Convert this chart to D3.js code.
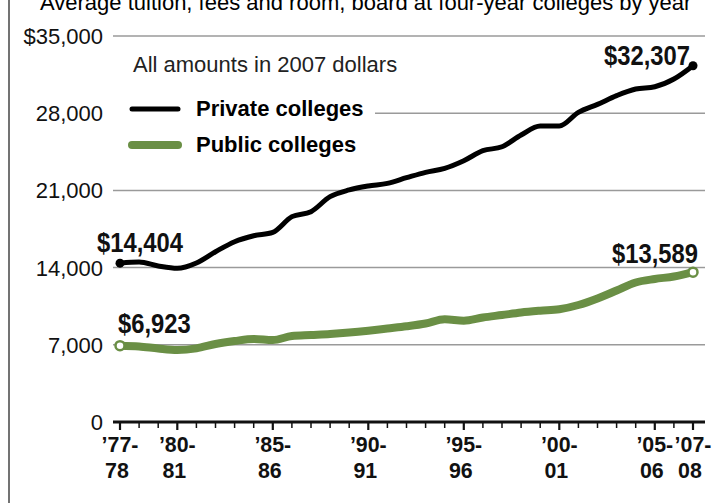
<!DOCTYPE html>
<html lang="en">
<head>
    <meta charset="UTF-8">
    <title>College costs</title>
    <script src="https://d3js.org/d3.v7.min.js"></script>
    <style>
        body {
            margin: 0;
            background-color: white;
        }
        svg {
            display: block;
            font-family: "Liberation Sans", Arial, sans-serif;
        }
    </style>
</head>
<body>
    <svg id="chart" width="715" height="503"></svg>

    <script>
        // Academic years, by starting year ('77-78 ... '07-08)
        const years = d3.range(1977, 2008);

        // Average charges, 2007 dollars
        const privateValues = [
            14404, 14500, 14150, 13940, 14420, 15440, 16350, 16890, 17200, 18620,
            19070, 20430, 21040, 21400, 21640, 22150, 22640, 23000, 23690, 24600,
            24960, 26020, 26840, 26840, 28080, 28800, 29590, 30190, 30400, 31100,
            32307
        ];
        const publicValues = [
            6923, 6850, 6660, 6530, 6680, 7070, 7340, 7530, 7430, 7800,
            7890, 7980, 8110, 8280, 8480, 8680, 8930, 9310, 9185, 9475,
            9700, 9930, 10090, 10220, 10610, 11200, 11920, 12650, 12970, 13190,
            13589
        ];

        const yTicks = [0, 7000, 14000, 21000, 28000, 35000];
        const labelYears = [1977, 1980, 1985, 1990, 1995, 2000, 2005, 2007];
        const labelTop = ["\u201977-", "\u201980-", "\u201985-", "\u201990-", "\u201995-", "\u201900-", "\u201905-", "\u201907-"];
        const labelBottom = ["78", "81", "86", "91", "96", "01", "06", "08"];

        const green = "#6a8f45";

        const svg = d3.select("#chart");

        const x = d3.scaleLinear().domain([1977, 2007]).range([120, 693]);
        const y = d3.scaleLinear().domain([0, 35000]).range([422, 36]);

        // bold text squeezed horizontally (no condensed face installed)
        function narrow(parent, px, py, str, size, sx, anchor) {
            const g = parent.append("g")
                .attr("transform", `translate(${px},${py}) scale(${sx},1)`);
            g.append("text")
                .attr("text-anchor", anchor)
                .style("font-size", size + "px")
                .style("font-weight", "bold")
                .attr("fill", "#111")
                .text(str);
            return g;
        }

        // left border
        svg.append("line")
            .attr("x1", 9).attr("x2", 9)
            .attr("y1", 0).attr("y2", 503)
            .attr("stroke", "#444")
            .attr("stroke-width", 1.5);

        // cut-off heading and source line
        svg.append("text")
            .attr("x", 40).attr("y", 10)
            .style("font-size", "22px")
            .text("Average tuition, fees and room, board at four-year colleges by year");
        svg.append("text")
            .attr("x", 17).attr("y", 518)
            .style("font-size", "18px")
            .text("Source: The College Board");

        // gridlines
        svg.append("g")
            .selectAll("line")
            .data(yTicks.filter(d => d > 0))
            .join("line")
            .attr("x1", 113).attr("x2", 705)
            .attr("y1", d => y(d)).attr("y2", d => y(d))
            .attr("stroke", "#9a9a9a")
            .attr("stroke-width", 1.5);

        // y labels
        svg.append("g")
            .selectAll("text")
            .data(yTicks)
            .join("text")
            .attr("x", 103)
            .attr("y", d => y(d))
            .attr("dy", "0.36em")
            .attr("text-anchor", "end")
            .style("font-size", "22px")
            .attr("fill", "#111")
            .text(d => d === 35000 ? "$35,000" : d3.format(",")(d));

        // x axis
        svg.append("line")
            .attr("x1", 113).attr("x2", 705)
            .attr("y1", y(0)).attr("y2", y(0))
            .attr("stroke", "#111")
            .attr("stroke-width", 3);

        svg.append("g")
            .selectAll("line")
            .data(years)
            .join("line")
            .attr("x1", d => x(d)).attr("x2", d => x(d))
            .attr("y1", y(0))
            .attr("y2", d => y(0) + (labelYears.includes(d) ? 8 : 6))
            .attr("stroke", "#111")
            .attr("stroke-width", d => labelYears.includes(d) ? 2.2 : 1.5);

        const xl = svg.append("g");
        labelYears.forEach((d, i) => {
            narrow(xl, x(d), 452, labelTop[i], 23, 0.93, "middle");
            narrow(xl, x(d) - 3, 478, labelBottom[i], 23, 0.93, "middle");
        });

        // legend (white block hides gridline under it)
        svg.append("rect")
            .attr("x", 112).attr("y", 96)
            .attr("width", 263).attr("height", 62)
            .attr("fill", "white");
        svg.append("text")
            .attr("x", 133).attr("y", 72)
            .style("font-size", "22px")
            .attr("fill", "#222")
            .text("All amounts in 2007 dollars");
        svg.append("line")
            .attr("x1", 132).attr("x2", 178)
            .attr("y1", 109).attr("y2", 109)
            .attr("stroke", "#000").attr("stroke-width", 5)
            .attr("stroke-linecap", "round");
        svg.append("text")
            .attr("x", 196).attr("y", 116)
            .style("font-size", "22px").style("font-weight", "bold")
            .text("Private colleges");
        svg.append("line")
            .attr("x1", 132).attr("x2", 178)
            .attr("y1", 145).attr("y2", 145)
            .attr("stroke", green).attr("stroke-width", 8)
            .attr("stroke-linecap", "round");
        svg.append("text")
            .attr("x", 196).attr("y", 152)
            .style("font-size", "22px").style("font-weight", "bold")
            .text("Public colleges");

        // white knockout behind the public end label
        const last = years.length - 1;
        svg.append("rect")
            .attr("x", x(years[last]) - 83).attr("y", y(publicValues[last]) - 30)
            .attr("width", 100).attr("height", 24)
            .attr("fill", "white");

        // lines
        const line = d3.line()
            .x((d, i) => x(years[i]))
            .y(d => y(d))
            .curve(d3.curveMonotoneX);

        svg.append("path")
            .datum(publicValues)
            .attr("d", line)
            .attr("fill", "none")
            .attr("stroke", green)
            .attr("stroke-width", 8)
            .attr("stroke-linejoin", "round");

        svg.append("path")
            .datum(privateValues)
            .attr("d", line)
            .attr("fill", "none")
            .attr("stroke", "#000")
            .attr("stroke-width", 5)
            .attr("stroke-linejoin", "round");

        // end points
        [0, last].forEach(i => {
            svg.append("circle")
                .attr("cx", x(years[i])).attr("cy", y(privateValues[i]))
                .attr("r", 4.5).attr("fill", "#000");
            svg.append("circle")
                .attr("cx", x(years[i])).attr("cy", y(publicValues[i]))
                .attr("r", 4.5).attr("fill", "white")
                .attr("stroke", green).attr("stroke-width", 2.5);
        });

        // value labels
        const fmt = d => "$" + d3.format(",")(d);
        narrow(svg, x(years[0]) - 23, y(privateValues[0]) - 11, fmt(privateValues[0]), 28, 0.85, "start");
        narrow(svg, x(years[0]) - 2, y(publicValues[0]) - 13, fmt(publicValues[0]), 28, 0.85, "start");
        narrow(svg, x(years[last]) - 3, y(privateValues[last]) - 1, fmt(privateValues[last]), 28, 0.85, "end");
        narrow(svg, x(years[last]) + 5, y(publicValues[last]) - 9, fmt(publicValues[last]), 28, 0.85, "end");
    </script>
</body>
</html>
